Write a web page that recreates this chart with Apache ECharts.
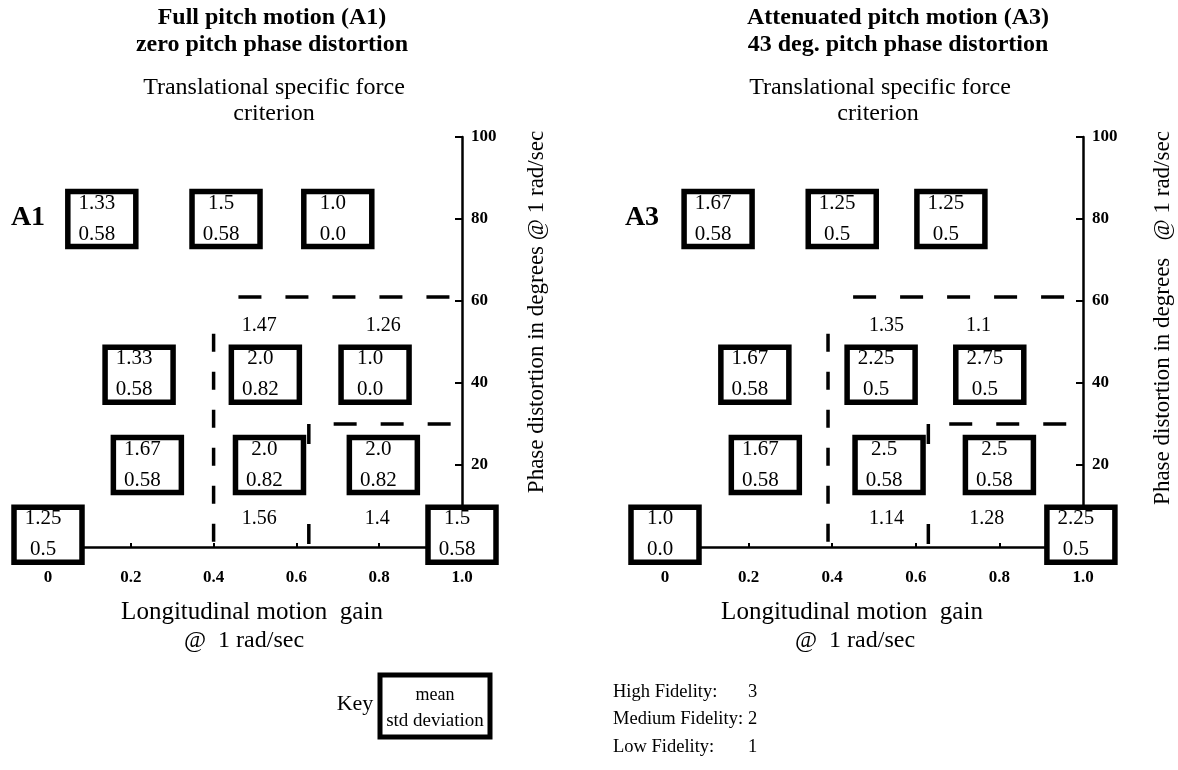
<!DOCTYPE html>
<html><head><meta charset="utf-8">
<script src="https://cdn.jsdelivr.net/npm/echarts@6/dist/echarts.min.js"></script>
<style>html,body{margin:0;padding:0;background:#fff}#c{width:1178px;height:770px}</style>
</head><body><div id="c"></div>
<script>
// ---------- data ----------
const xTickLabels = ['0', '0.2', '0.4', '0.6', '0.8', '1.0'];
const yTickLabels = ['', '20', '40', '60', '80', '100'];

// Panel A1: boxes (gain, phase distortion, mean, std)
const a1Gain  = [0.13, 0.43, 0.70, 0.22, 0.525, 0.79, 0.24, 0.535, 0.81, 0.0, 1.0];
const a1Phase = [80, 80, 80, 42, 42, 42, 20, 20, 20, 3, 3];
const a1Mean  = ['1.33', '1.5', '1.0', '1.33', '2.0', '1.0', '1.67', '2.0', '2.0', '1.25', '1.5'];
const a1Std   = ['0.58', '0.58', '0.0', '0.58', '0.82', '0.0', '0.58', '0.82', '0.82', '0.5', '0.58'];
// Panel A1: region means
const a1RegGain  = [0.51, 0.81, 0.51, 0.795];
const a1RegPhase = [54, 54, 7, 7];
const a1RegMean  = ['1.47', '1.26', '1.56', '1.4'];
// Panel A1: dashed region boundaries
const a1Upper = [[0.46, 61], [1.0, 61]];
const a1Lower = [[0.69, 30], [1.0, 30]];
const a1Left  = [[0.40, 52], [0.40, 0]];
const a1Mid   = [[0.63, 30], [0.63, 0]];

// Panel A3
const a3Gain  = [0.127, 0.424, 0.684, 0.215, 0.517, 0.777, 0.24, 0.536, 0.80, 0.0, 0.995];
const a3Phase = [80, 80, 80, 42, 42, 42, 20, 20, 20, 3, 3];
const a3Mean  = ['1.67', '1.25', '1.25', '1.67', '2.25', '2.75', '1.67', '2.5', '2.5', '1.0', '2.25'];
const a3Std   = ['0.58', '0.5', '0.5', '0.58', '0.5', '0.5', '0.58', '0.58', '0.58', '0.0', '0.5'];
const a3RegGain  = [0.53, 0.75, 0.53, 0.77];
const a3RegPhase = [54, 54, 7, 7];
const a3RegMean  = ['1.35', '1.1', '1.14', '1.28'];
const a3Upper = [[0.45, 61], [1.0, 61]];
const a3Lower = [[0.68, 30], [1.0, 30]];
const a3Left  = [[0.39, 52], [0.39, 0]];
const a3Mid   = [[0.63, 30], [0.63, 0]];

// Fidelity scale
const fidelityNames  = ['High Fidelity:', 'Medium Fidelity:', 'Low Fidelity:'];
const fidelityScores = ['3', '2', '1'];

// ---------- chart ----------
const FONT = '"Liberation Serif", "Times New Roman", serif';
const chart = echarts.init(document.getElementById('c'));

function xAxisCfg(gi) {
  return {
    type: 'value', gridIndex: gi, min: 0, max: 1, interval: 0.2,
    axisLine: { show: true, onZero: false, lineStyle: { color: '#000', width: 2.5 } },
    axisTick: { show: true, inside: true, length: 4, lineStyle: { color: '#000', width: 2 } },
    splitLine: { show: false },
    axisLabel: {
      margin: 22, color: '#000', fontFamily: FONT, fontWeight: 'bold', fontSize: 17,
      formatter: v => xTickLabels[Math.round(v / 0.2)]
    }
  };
}
function yAxisCfg(gi) {
  return {
    type: 'value', gridIndex: gi, position: 'right', min: 0, max: 100, interval: 20,
    axisLine: { show: true, onZero: false, lineStyle: { color: '#000', width: 2.5 } },
    axisTick: { show: true, inside: true, length: 7, lineStyle: { color: '#000', width: 2 } },
    splitLine: { show: false },
    axisLabel: {
      margin: 9, color: '#000', fontFamily: FONT, fontWeight: 'bold', fontSize: 17,
      formatter: v => yTickLabels[Math.round(v / 20)]
    }
  };
}
function boxSeries(gi, gains, phases, means, stds) {
  return {
    type: 'custom', xAxisIndex: gi, yAxisIndex: gi, z: 10,
    data: gains.map((g, i) => [g, phases[i]]),
    renderItem(params, api) {
      const i = params.dataIndex;
      const p = api.coord([api.value(0), api.value(1)]);
      const w = 68, h = 55;
      const tf = '21px ' + FONT;
      return {
        type: 'group', children: [
          { type: 'rect', shape: { x: p[0] - w / 2, y: p[1] - h / 2, width: w, height: h },
            style: { fill: '#fff', stroke: '#000', lineWidth: 5.5 } },
          { type: 'text', style: { text: means[i], x: p[0] - 5, y: p[1] - 16, font: tf, fill: '#000',
            align: 'center', verticalAlign: 'middle', textAlign: 'center', textVerticalAlign: 'middle' } },
          { type: 'text', style: { text: stds[i], x: p[0] - 5, y: p[1] + 15, font: tf, fill: '#000',
            align: 'center', verticalAlign: 'middle', textAlign: 'center', textVerticalAlign: 'middle' } }
        ]
      };
    }
  };
}
function regSeries(gi, gains, phases, labels) {
  return {
    type: 'custom', xAxisIndex: gi, yAxisIndex: gi, z: 9,
    data: gains.map((g, i) => [g, phases[i]]),
    renderItem(params, api) {
      const p = api.coord([api.value(0), api.value(1)]);
      return { type: 'text', style: { text: labels[params.dataIndex], x: p[0], y: p[1], font: '20px ' + FONT,
        fill: '#000', align: 'center', verticalAlign: 'middle', textAlign: 'center', textVerticalAlign: 'middle' } };
    }
  };
}
function dashSeries(gi, pts, dash) {
  return {
    type: 'line', xAxisIndex: gi, yAxisIndex: gi, z: 5, data: pts, showSymbol: false, symbol: 'none',
    silent: true, animation: false,
    lineStyle: { color: '#000', width: 3.5, type: dash }
  };
}
function txt(x, y, text, size, opts) {
  opts = opts || {};
  return {
    type: 'text', x: x, y: y, rotation: opts.rot || 0, z: 20,
    style: { text: text, font: (opts.bold ? 'bold ' : '') + size + 'px ' + FONT, fill: '#000',
      align: opts.align || 'center', verticalAlign: 'middle',
      textAlign: opts.align || 'center', textVerticalAlign: 'middle' }
  };
}

const legendRows = [692, 719, 747];
const option = {
  animation: false,
  backgroundColor: '#fff',
  grid: [
    { left: 48, top: 137, width: 414, height: 410, containLabel: false },
    { left: 665, top: 137, width: 418, height: 410, containLabel: false }
  ],
  xAxis: [xAxisCfg(0), xAxisCfg(1)],
  yAxis: [yAxisCfg(0), yAxisCfg(1)],
  series: [
    dashSeries(0, a1Upper, [23, 24]), dashSeries(0, a1Lower, [23, 24]),
    dashSeries(0, a1Left, [18, 20]), dashSeries(0, a1Mid, [20, 80]),
    dashSeries(1, a3Upper, [23, 24]), dashSeries(1, a3Lower, [23, 24]),
    dashSeries(1, a3Left, [18, 20]), dashSeries(1, a3Mid, [20, 80]),
    boxSeries(0, a1Gain, a1Phase, a1Mean, a1Std),
    boxSeries(1, a3Gain, a3Phase, a3Mean, a3Std),
    regSeries(0, a1RegGain, a1RegPhase, a1RegMean),
    regSeries(1, a3RegGain, a3RegPhase, a3RegMean)
  ],
  graphic: [
    txt(272, 18, 'Full pitch motion (A1)', 24, { bold: true }),
    txt(272, 45, 'zero pitch phase distortion', 24, { bold: true }),
    txt(898, 18, 'Attenuated pitch motion (A3)', 24, { bold: true }),
    txt(898, 45, '43 deg. pitch phase distortion', 24, { bold: true }),
    txt(274, 88, 'Translational specific force', 24),
    txt(274, 114, 'criterion', 24),
    txt(880, 88, 'Translational specific force', 24),
    txt(878, 114, 'criterion', 24),
    txt(28, 218, 'A1', 28, { bold: true }),
    txt(642, 218, 'A3', 28, { bold: true }),
    txt(537, 312, 'Phase distortion in degrees @ 1 rad/sec', 23, { rot: Math.PI / 2 }),
    txt(1163, 318, 'Phase distortion in degrees   @ 1 rad/sec', 23, { rot: Math.PI / 2 }),
    txt(252, 612, 'Longitudinal motion  gain', 25),
    txt(244, 641, '@  1 rad/sec', 24),
    txt(852, 612, 'Longitudinal motion  gain', 25),
    txt(855, 641, '@  1 rad/sec', 24),
    txt(355, 704, 'Key', 22),
    { type: 'rect', z: 20, shape: { x: 380, y: 675, width: 110, height: 62 },
      style: { fill: '#fff', stroke: '#000', lineWidth: 5 } },
    txt(435, 695, 'mean', 18),
    txt(435, 721, 'std deviation', 19)
  ].concat(
    fidelityNames.map((n, i) => txt(613, legendRows[i], n, 18.5, { align: 'left' })),
    fidelityScores.map((s, i) => txt(748, legendRows[i], s, 18.5, { align: 'left' }))
  )
};
chart.setOption(option);
</script>
</body></html>
